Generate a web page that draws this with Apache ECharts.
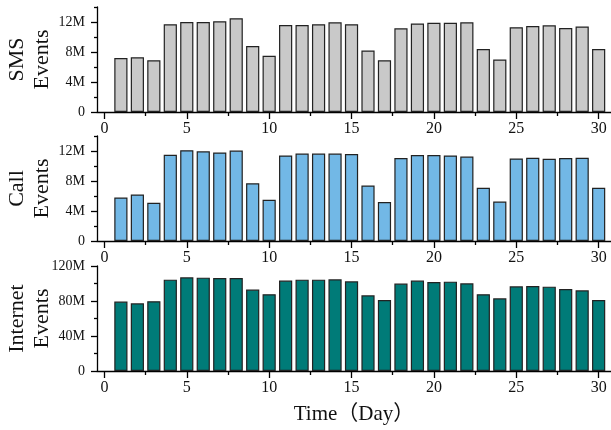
<!DOCTYPE html>
<html>
<head>
<meta charset="utf-8">
<script src="https://cdn.jsdelivr.net/npm/echarts@6/dist/echarts.min.js"></script>
<style>
  html, body { margin: 0; padding: 0; background: #fff; }
  #chart { width: 611px; height: 430px; }
</style>
</head>
<body>
<div id="chart"></div>
<script>
// Daily event counts over one month (values in millions)
const days = [1, 2, 3, 4, 5, 6, 7, 8, 9, 10, 11, 12, 13, 14, 15,
              16, 17, 18, 19, 20, 21, 22, 23, 24, 25, 26, 27, 28, 29, 30];
const smsEvents = [7.2, 7.3, 6.9, 11.7, 12.0, 12.0, 12.1, 12.5, 8.8, 7.5,
                   11.6, 11.6, 11.7, 11.95, 11.7, 8.2, 6.9, 11.15, 11.8, 11.9,
                   11.9, 11.95, 8.4, 7.0, 11.3, 11.45, 11.55, 11.2, 11.4, 8.4];
const callEvents = [5.8, 6.2, 5.1, 11.5, 12.1, 11.95, 11.8, 12.05, 7.7, 5.5,
                    11.4, 11.65, 11.65, 11.65, 11.6, 7.4, 5.2, 11.05, 11.45, 11.45,
                    11.4, 11.25, 7.1, 5.25, 11.0, 11.1, 10.95, 11.05, 11.1, 7.1];
const internetEvents = [79.3, 77.4, 79.7, 104.4, 107.1, 106.7, 106.3, 106.3, 93.0, 87.7,
                        103.3, 104.4, 104.4, 104.8, 102.5, 86.5, 81.1, 99.9, 103.3, 101.7,
                        102.1, 100.2, 87.7, 83.1, 96.8, 97.1, 96.4, 93.7, 92.2, 81.1];

// Axis tick values
const dayTicks = [0, 5, 10, 15, 20, 25, 30];
const dayMinorTicks = [2.5, 7.5, 12.5, 17.5, 22.5, 27.5];
const smallTicks = [0, 4, 8, 12];
const smallMinorTicks = [2, 6, 10, 14];
const bigTicks = [0, 40, 80, 120];
const bigMinorTicks = [20, 60, 100];

const panels = [
  { name: 'SMS\nEvents', values: smsEvents, color: '#c9c9c9', max: 14,
    ticks: smallTicks, minor: smallMinorTicks },
  { name: 'Call\nEvents', values: callEvents, color: '#72b8e6', max: 14,
    ticks: smallTicks, minor: smallMinorTicks },
  { name: 'Internet\nEvents', values: internetEvents, color: '#007b78', max: 120,
    ticks: bigTicks, minor: bigMinorTicks }
];

const serif = "'Liberation Serif', 'Noto Sans CJK SC', serif";
const gridTops = [7, 136, 266];
const gridHeight = 105;
const axisLine = { show: true, onZero: false, lineStyle: { color: '#000', width: 1.3 } };
const hiddenLine = { show: false, onZero: false };
const tickLine = { color: '#000', width: 1.3 };

const grid = [], xAxis = [], yAxis = [], series = [];
panels.forEach((p, i) => {
  grid.push({ left: 97, right: 0, top: gridTops[i], height: gridHeight,
              containLabel: false, outerBoundsMode: 'none' });
  const last = i === panels.length - 1;
  // major day axis
  xAxis.push({
    type: 'value', gridIndex: i, position: 'bottom', min: -0.45, max: 30.75,
    axisLine: axisLine,
    axisTick: { show: true, inside: false, customValues: dayTicks, length: 7, lineStyle: tickLine },
    axisLabel: { show: true, inside: false, customValues: dayTicks, fontFamily: serif, fontSize: 16, color: '#111', margin: 9 },
    splitLine: { show: false },
    name: last ? 'Time\uFF08Day\uFF09' : '',
    nameLocation: 'middle', nameGap: 33, nameMoveOverlap: false,
    nameTextStyle: { fontFamily: serif, fontSize: 21, color: '#111' }
  });
  // minor day ticks
  xAxis.push({
    type: 'value', gridIndex: i, position: 'bottom', min: -0.45, max: 30.75,
    axisLine: hiddenLine,
    axisTick: { show: true, inside: false, customValues: dayMinorTicks, length: 4, lineStyle: tickLine },
    axisLabel: { show: false },
    splitLine: { show: false }
  });
  yAxis.push({
    type: 'value', gridIndex: i, position: 'left', min: 0, max: p.max,
    axisLine: axisLine,
    axisTick: { show: true, inside: false, customValues: p.ticks, length: 6, lineStyle: tickLine },
    axisLabel: {
      show: true, inside: false, customValues: p.ticks, fontFamily: serif, fontSize: 14, color: '#111', margin: 12,
      formatter: v => (v === 0 ? '0' : v + 'M')
    },
    splitLine: { show: false },
    name: p.name, nameLocation: 'middle', nameRotate: 90, nameGap: 42, nameMoveOverlap: false,
    nameTextStyle: { fontFamily: serif, fontSize: 22, color: '#111', lineHeight: 25 }
  });
  // minor value ticks
  yAxis.push({
    type: 'value', gridIndex: i, position: 'left', min: 0, max: p.max,
    axisLine: hiddenLine,
    axisTick: { show: true, inside: false, customValues: p.minor, length: 3, lineStyle: tickLine },
    axisLabel: { show: false },
    splitLine: { show: false }
  });
  series.push({
    type: 'bar',
    xAxisIndex: 2 * i, yAxisIndex: 2 * i,
    data: days.map((d, k) => [d, p.values[k]]),
    barWidth: 13.2,
    itemStyle: { color: p.color, borderColor: '#222', borderWidth: 1.2 },
    silent: true
  });
});

const chart = echarts.init(document.getElementById('chart'), null, { renderer: 'canvas' });
chart.setOption({ animation: false, grid, xAxis, yAxis, series });
</script>
</body>
</html>
